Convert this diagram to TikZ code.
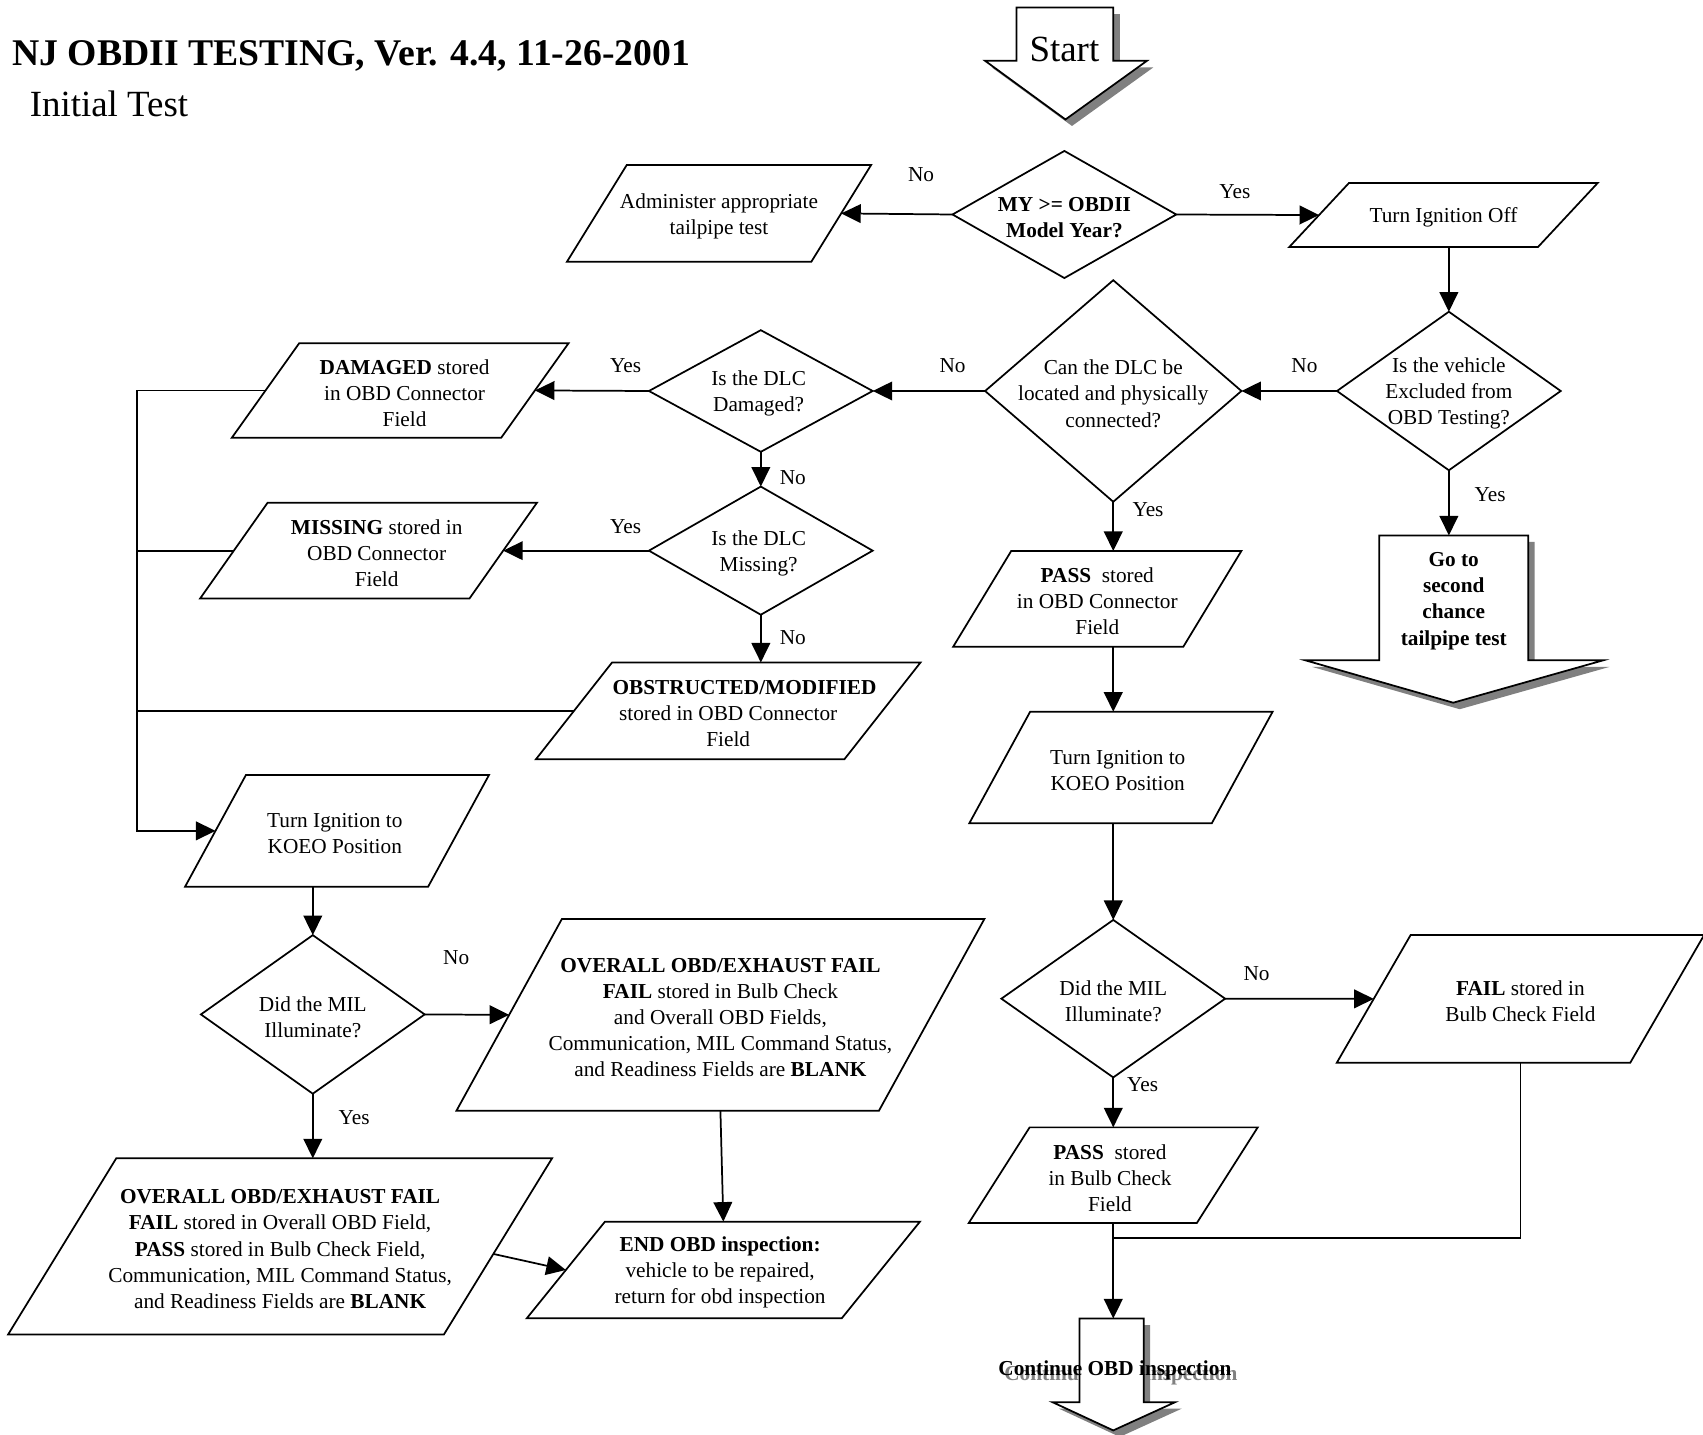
\documentclass[tikz,border=0pt]{standalone}
\usepackage{fontspec}
\setmainfont{Liberation Serif}
\usetikzlibrary{arrows.meta,calc}
\newcommand\nfont{\fontsize{9.8}{12}\selectfont}
\tikzset{
  txt/.style={inner sep=0pt, align=center, font=\nfont},
  geo/.style={inner sep=0pt, outer sep=0pt},
  shp/.style={line width=0.8pt, line join=miter},
  arr/.style={line width=0.8pt, -{Triangle[length=9pt,width=8.6pt]}},
  ln/.style={line width=0.8pt},
  lbl/.style={inner sep=0pt, font=\nfont},
  shadowc/.style={fill=black!50},
}
% parallelogram: [text options], name, x, y, side width, height, slant offset, text
\newcommand\pgbox[8][]{%
  \node[geo, minimum width=#5*0.5pt, minimum height=#6*0.5pt] (#2) at (#3,#4) {};
  \node[txt, yshift=-1.25pt, #1] (#2-t) at (#2.center) {#8};
  \draw[shp] ([xshift=-#7*0.25pt]#2.south west) -- ([xshift=-#7*0.25pt]#2.south east)
    -- ([xshift=#7*0.25pt]#2.north east) -- ([xshift=#7*0.25pt]#2.north west) -- cycle;
}
% diamond: [text options], name, x, y, width, height, text
\newcommand\dmd[7][]{%
  \node[geo, minimum width=#5*0.5pt, minimum height=#6*0.5pt] (#2) at (#3,#4) {};
  \node[txt, yshift=-1.25pt, #1] (#2-t) at (#2.center) {#7};
  \draw[shp] (#2.north) -- (#2.east) -- (#2.south) -- (#2.west) -- cycle;
}
\begin{document}
\begin{tikzpicture}[x=0.5pt,y=-0.5pt]
\useasboundingbox (0,0) rectangle (1568,1321);

% titles
\node[anchor=base west, inner sep=0pt, font=\fontsize{17.35}{20}\selectfont\bfseries] (title) at (11,60) {NJ OBDII TESTING, Ver. 4.4, 11-26-2001};
\node[anchor=base west, inner sep=0pt, font=\fontsize{17}{20}\selectfont] (sub) at (27,107.5) {Initial Test};

% Start block arrow
\fill[shadowc, shift={(6,6)}] (936,7) -- (1025,7) -- (1025,56) -- (1056,56) -- (981,110) -- (907,56) -- (936,56) -- cycle;
\filldraw[shp, fill=white] (936,7) -- (1025,7) -- (1025,56) -- (1056,56) -- (981,110) -- (907,56) -- (936,56) -- cycle;
\node[anchor=base, inner sep=0pt, font=\fontsize{17}{20}\selectfont] (start) at (980,57) {Start};

% Go to second chance block arrow
\fill[shadowc, shift={(6,6)}] (1270,493) -- (1407,493) -- (1407,608) -- (1476,608) -- (1338,647) -- (1202,608) -- (1270,608) -- cycle;
\filldraw[shp, fill=white] (1270,493) -- (1407,493) -- (1407,608) -- (1476,608) -- (1338,647) -- (1202,608) -- (1270,608) -- cycle;
\node[geo, minimum width=137*0.5pt, minimum height=115*0.5pt] (goto) at (1338.5,550.5) {};
\node[txt, font=\nfont\bfseries, yshift=-1.5pt] (goto-t) at (goto.center) {Go to\\second\\chance\\tailpipe test};

% Continue block arrow
\fill[shadowc, shift={(6,6)}] (994,1214) -- (1053,1214) -- (1053,1291) -- (1082,1291) -- (1025,1317) -- (969,1291) -- (994,1291) -- cycle;
\node[anchor=base, inner sep=0pt, font=\nfont\bfseries, text=black!50] (contshadow) at (1032,1271) {Continue OBD inspection};
\filldraw[shp, fill=white] (994,1214) -- (1053,1214) -- (1053,1291) -- (1082,1291) -- (1025,1317) -- (969,1291) -- (994,1291) -- cycle;
\node[geo, minimum width=59*0.5pt, minimum height=77*0.5pt] (contshaft) at (1023.5,1252.5) {};
\node[anchor=base, inner sep=0pt, font=\nfont\bfseries] (conttext) at (1026.5,1266) {Continue OBD inspection};

% decisions
\dmd{my}{980}{197.5}{206}{117}{\textbf{MY >= OBDII}\\\textbf{Model Year?}}
\dmd{exc}{1334}{360}{206}{146}{Is the vehicle\\Excluded from\\OBD Testing?}
\dmd{dlc}{1025}{360}{236}{204}{Can the DLC be\\located and physically\\connected?}
\dmd[xshift=-1pt]{dmg}{700.5}{360}{206}{112}{Is the DLC\\Damaged?}
\dmd[xshift=-1pt]{mis}{700.5}{507}{206}{118}{Is the DLC\\Missing?}
\dmd{mill}{288}{934}{206}{146}{Did the MIL\\Illuminate?}
\dmd{milr}{1025}{919.5}{206}{145}{Did the MIL\\Illuminate?}

% boxes
\pgbox{adm}{662}{196.5}{225}{89}{55}{Administer appropriate\\tailpipe test}
\pgbox{toff}{1329}{198}{229}{59}{55}{Turn Ignition Off}
\pgbox[xshift=2pt]{dbox}{368.5}{359.5}{248}{87}{62}{\textbf{DAMAGED} stored\\in OBD Connector\\Field}
\pgbox[xshift=3.75pt]{mbox}{339.3}{507}{248}{88}{62}{\textbf{MISSING} stored in\\OBD Connector\\Field}
\pgbox{obox}{670.5}{654.5}{284}{89}{70}{\hspace*{15pt}\textbf{OBSTRUCTED/MODIFIED}\\stored in OBD Connector\\Field}
\pgbox[xshift=-1pt]{kl}{310.3}{765}{223.8}{102.8}{56}{Turn Ignition to\\KOEO Position}
\pgbox{ovr}{663.3}{934.4}{389}{176.4}{97}{\textbf{OVERALL OBD/EXHAUST FAIL}\\\textbf{FAIL} stored in Bulb Check\\and Overall OBD Fields,\\Communication, MIL Command Status,\\and Readiness Fields are \textbf{BLANK}}
\pgbox{ovl}{257.9}{1147.55}{401.25}{162.1}{99.5}{\textbf{OVERALL OBD/EXHAUST FAIL}\\\textbf{FAIL} stored in Overall OBD Field,\\\textbf{PASS} stored in Bulb Check Field,\\Communication, MIL Command Status,\\and Readiness Fields are \textbf{BLANK}}
\pgbox[xshift=-1.5pt]{endb}{666}{1169.3}{290}{89}{72}{\textbf{END OBD inspection:}\\vehicle to be repaired,\\return for obd inspection}
\pgbox{pconn}{1010.3}{551.35}{211.9}{88.1}{53.4}{\textbf{PASS}\ \ stored\\in OBD Connector\\Field}
\pgbox[xshift=-1.5pt]{kr}{1032.1}{706.65}{223.25}{102.7}{56}{Turn Ignition to\\KOEO Position}
\pgbox{fbox}{1399.9}{919.7}{270.2}{117.6}{68}{\textbf{FAIL} stored in\\Bulb Check Field}
\pgbox[xshift=-1.5pt]{pbulb}{1025}{1082}{210}{88}{56}{\textbf{PASS}\ \ stored\\in Bulb Check\\Field}

% helper coordinates
\coordinate (bus) at (126,765);
\coordinate (join) at (1025,1140);
\coordinate (ovlA) at ($([xshift=-99.5*0.25pt]ovl.south east)!0.457!([xshift=99.5*0.25pt]ovl.north east)$);

% connectors
\draw[arr] (my.west) -- (adm.east);
\draw[arr] (my.east) -- (toff.west);
\draw[arr] (exc.north |- toff.south) -- (exc.north);
\draw[arr] (exc.west) -- (dlc.east);
\draw[arr] (exc.south) -- (exc.south |- goto.north);
\draw[arr] (dlc.west) -- (dmg.east);
\draw[arr] (dlc.south) -- (dlc.south |- pconn.north);
\draw[arr] (dmg.west) -- (dbox.east);
\draw[arr] (dmg.south) -- (mis.north);
\draw[arr] (mis.west) -- (mbox.east);
\draw[arr] (mis.south) -- (mis.south |- obox.north);
\draw[ln] (mbox.west) -- (mbox.west -| bus);
\draw[ln] (obox.west) -- (obox.west -| bus);
\draw[arr] (dbox.west) -| (bus) -- (kl.west);
\draw[arr] (mill.north |- kl.south) -- (mill.north);
\draw[arr] (mill.east) -- (ovr.west);
\draw[arr] (mill.south) -- (mill.south |- ovl.north);
\draw[arr] (ovr.south) -- (endb.north);
\draw[arr] (ovlA) -- (endb.west);
\draw[arr] (dlc.south |- pconn.south) -- (dlc.south |- kr.north);
\draw[arr] (milr.north |- kr.south) -- (milr.north);
\draw[arr] (milr.east) -- (fbox.west);
\draw[arr] (milr.south) -- (pbulb.north);
\draw[ln] (fbox.south) |- (join);
\draw[arr] (pbulb.south) -- (pbulb.south |- contshaft.north);

% labels
\node[lbl] (l1) at (848,161) {No};
\node[lbl] (l2) at (1137,176) {Yes};
\node[lbl] (l3) at (1201,337) {No};
\node[lbl] (l4) at (877,337) {No};
\node[lbl] (l5) at (576,337) {Yes};
\node[lbl] (l6) at (730,440) {No};
\node[lbl] (l7) at (576,485) {Yes};
\node[lbl] (l8) at (730,587) {No};
\node[lbl] (l9) at (1057,469) {Yes};
\node[lbl] (l10) at (1372,455) {Yes};
\node[lbl] (l11) at (420,882) {No};
\node[lbl] (l12) at (326,1029) {Yes};
\node[lbl] (l13) at (1157,896) {No};
\node[lbl] (l14) at (1052,999) {Yes};
\end{tikzpicture}
\end{document}
